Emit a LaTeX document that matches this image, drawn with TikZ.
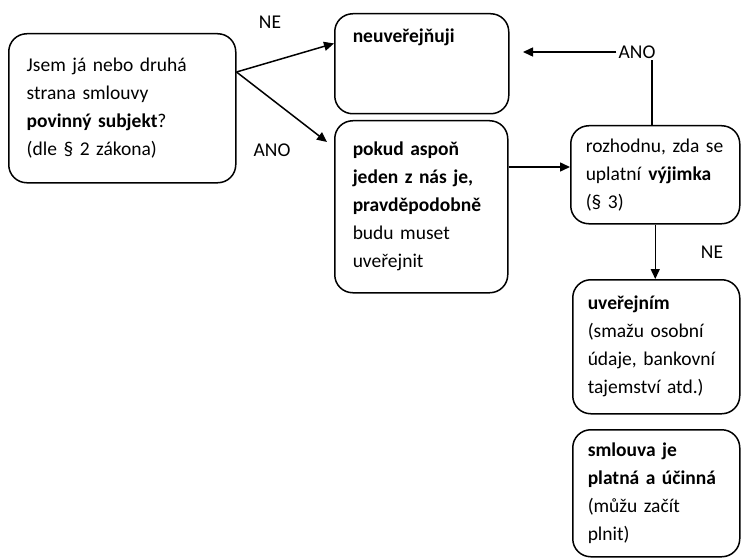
\documentclass[tikz,border=0pt]{standalone}
\usepackage{fontspec}
\setmainfont{Carlito}
\usetikzlibrary{positioning,calc,arrows.meta}

\begin{document}
\begin{tikzpicture}[x=1pt,y=-1pt,
    box/.style={draw, line width=1.5pt, rounded corners=18pt, anchor=north west, align=left,
      inner xsep=18pt, inner ysep=0pt, font=\fontsize{19.5}{28}\selectfont},
    lbl/.style={font=\fontsize{19.5}{28}\selectfont, inner sep=2pt},
    arr/.style={line width=1.5pt, -{Triangle[length=10pt,width=9pt]}}]
    \useasboundingbox (0,0) rectangle (741,559);
    \node[box, text width=191pt, minimum height=149pt] (subj) at (8,33)
      {Jsem já nebo druhá\\strana smlouvy\\\textbf{povinný subjekt}?\\(dle § 2 zákona)};
    \node[box, text width=138pt, minimum height=100pt] (neuv) at (334,13)
      {\textbf{neuveřejňuji}\\\mbox{}\\\mbox{}};
    \node[box, text width=137pt, minimum height=172pt] (pokud) at (334,120)
      {\textbf{pokud aspoň}\\\textbf{jeden z nás je,}\\\textbf{pravděpodobně}\\budu muset\\uveřejnit};
    \node[box, inner xsep=15pt, text width=139pt, minimum height=98pt] (vyj) at (570,125)
      {rozhodnu, zda se\\uplatní \textbf{výjimka}\\(§ 3)};
    \node[box, inner xsep=15pt, text width=137pt, minimum height=134pt] (uver) at (572,279)
      {\textbf{uveřejním}\\(smažu osobní\\údaje, bankovní\\tajemství atd.)};
    \node[box, inner xsep=15pt, text width=137pt, minimum height=127pt] (platna) at (572,429)
      {\textbf{smlouva je}\\\textbf{platná a účinná}\\(můžu začít\\plnit)};
    \node[lbl] (ne1) at (270,22) {NE};
    \node[lbl] (ano1) at (272,150) {ANO};
    \node[lbl] (ano2) at (637,52) {ANO};
    \node[lbl] (ne2) at (712,252) {NE};
    \coordinate (split) at ($(subj.north east)+(0,39)$);
    \coordinate (back) at (523,52);
    \draw[arr] (split) -- ($(neuv.north west)!0.3!(neuv.south west)$);
    \draw[arr] (split) -- ([shift={(-7,22)}]pokud.north west);
    \draw[arr] ($(pokud.north east)+(0,47)$) -- ($(vyj.north west)+(0,42)$);
    \draw[line width=1.5pt] (vyj.north -| 652,0) -- (652,60);
    \draw[arr] (ano2.west) -- (back);
    \draw[arr] (vyj.south) -- (vyj.south |- uver.north);
  \end{tikzpicture}
\end{document}
